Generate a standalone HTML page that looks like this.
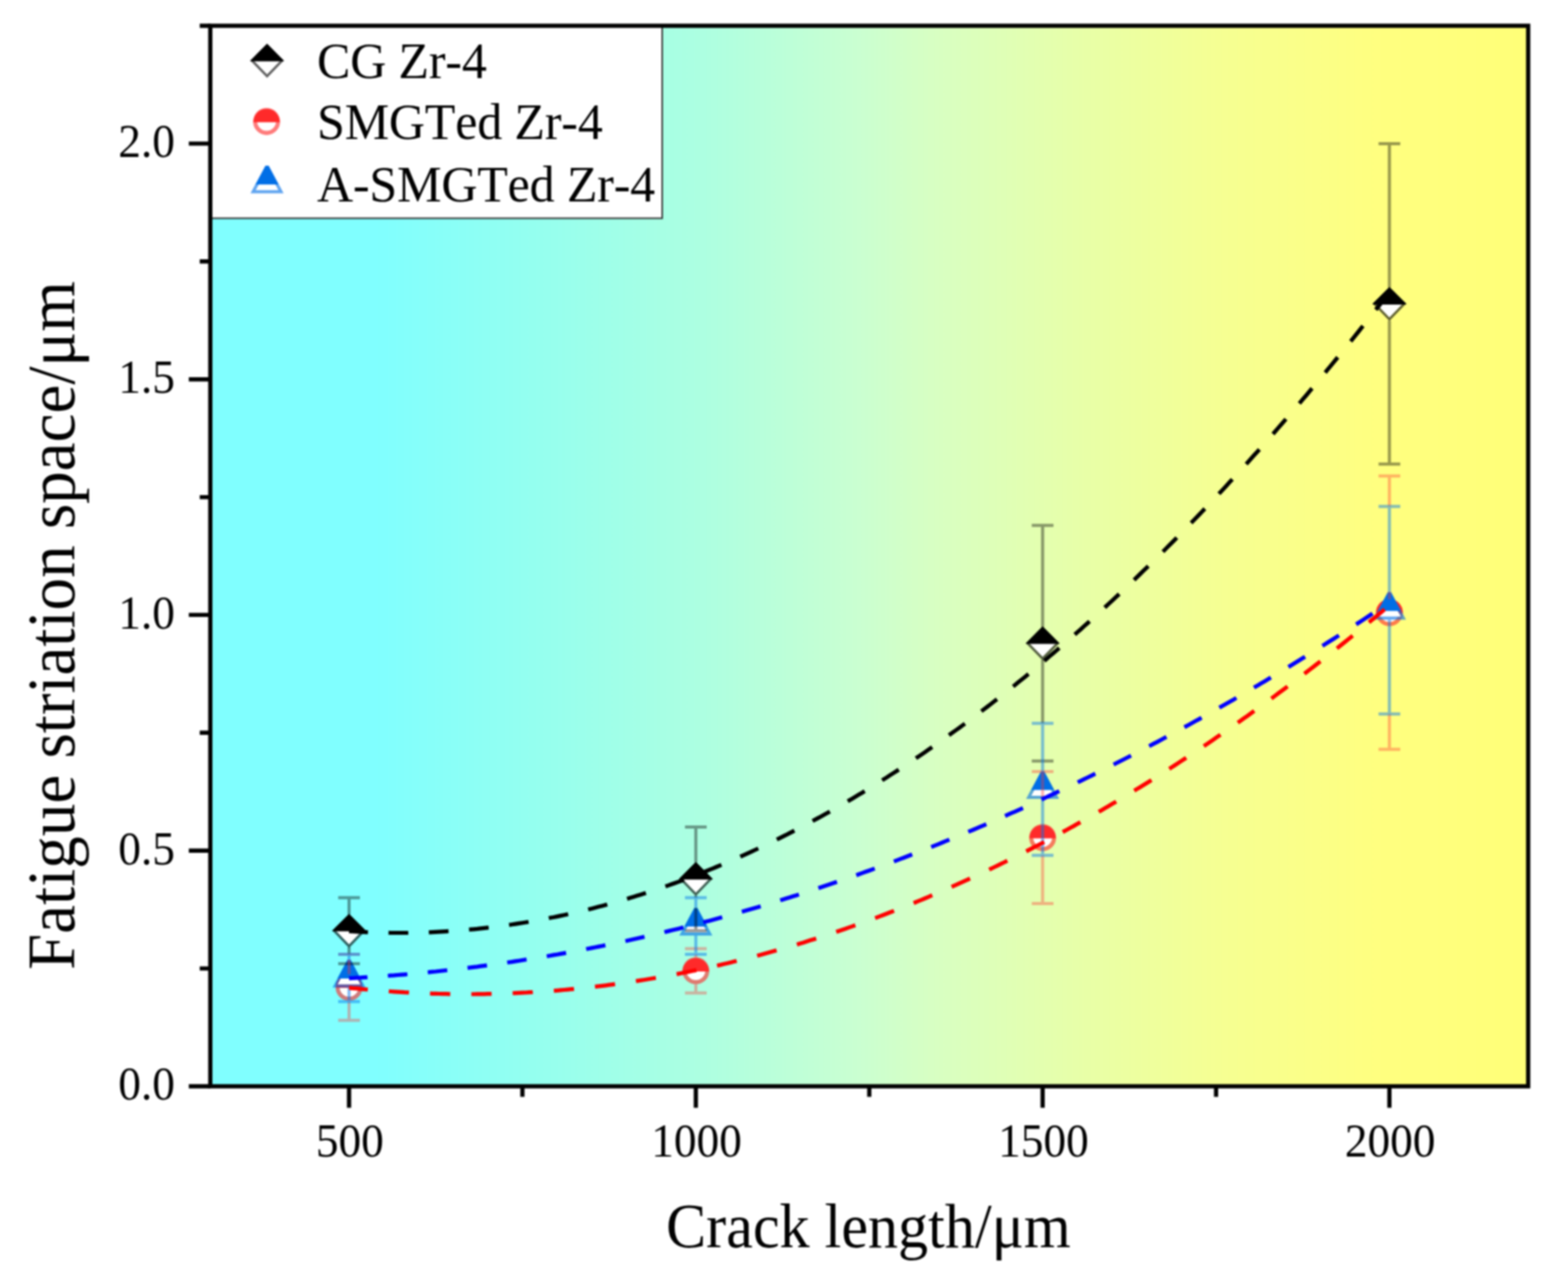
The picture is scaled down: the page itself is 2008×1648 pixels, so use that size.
<!DOCTYPE html>
<html lang="en">
<head>
<meta charset="utf-8">
<title>Fatigue striation space vs crack length</title>
<style>
html,body{margin:0;padding:0;background:#fff;}
body{width:2008px;height:1648px;overflow:hidden;}
svg{display:block;filter:blur(1.2px);}
text{font-family:"Liberation Serif","Times New Roman",serif;fill:#000;font-kerning:none;}
.tick{font-size:58px;}
.leg{font-size:64px;letter-spacing:-0.2px;}
.ttl{font-size:77px;}
.yttl{font-size:83.3px;}
</style>
</head>
<body>
<svg width="2008" height="1648" viewBox="0 0 2008 1648">
<defs>
<linearGradient id="bg" x1="0" y1="0" x2="1" y2="0">
<stop offset="0" stop-color="#80ffff"/>
<stop offset="0.125" stop-color="#80ffff"/>
<stop offset="0.255" stop-color="#96ffee"/>
<stop offset="0.374" stop-color="#adffe1"/>
<stop offset="0.492" stop-color="#caffd1"/>
<stop offset="0.551" stop-color="#d8ffc2"/>
<stop offset="0.67" stop-color="#e9ffa6"/>
<stop offset="0.77" stop-color="#f6ff92"/>
<stop offset="0.885" stop-color="#ffff80"/>
<stop offset="1" stop-color="#ffff78"/>
</linearGradient>
</defs>
<rect x="0" y="0" width="2008" height="1648" fill="#ffffff"/>
<rect x="269.3" y="33.0" width="1687.7" height="1358.0" fill="url(#bg)"/>

<g id="data">
<path d="M447.0 1170.2L468.3 1191.8L447.0 1213.9L425.7 1191.8Z" fill="#000" fill-opacity="0.62"/><path d="M430.1 1191.8H463.9L447.0 1209.3Z" fill="#fff"/><path d="M426.1 1192.6L425.3 1191.8L447.0 1170.2L468.7 1191.8L467.9 1192.6Z" fill="#000"/>
<path d="M891.1 1103.8L912.4 1125.4L891.1 1147.5L869.8 1125.4Z" fill="#000" fill-opacity="0.62"/><path d="M874.2 1125.4H908.0L891.1 1142.9Z" fill="#fff"/><path d="M870.2 1126.2L869.4 1125.4L891.1 1103.8L912.8 1125.4L912.0 1126.2Z" fill="#000"/>
<path d="M1335.2 802.0L1356.5 823.7L1335.2 845.7L1313.9 823.7Z" fill="#000" fill-opacity="0.62"/><path d="M1318.3 823.7H1352.1L1335.2 841.1Z" fill="#fff"/><path d="M1314.3 824.5L1313.5 823.7L1335.2 802.0L1356.9 823.7L1356.1 824.5Z" fill="#000"/>
<path d="M1779.3 367.5L1800.6 389.1L1779.3 411.1L1758.0 389.1Z" fill="#000" fill-opacity="0.62"/><path d="M1762.4 389.1H1796.2L1779.3 406.6Z" fill="#fff"/><path d="M1758.4 389.9L1757.6 389.1L1779.3 367.5L1801.0 389.1L1800.2 389.9Z" fill="#000"/>
<circle cx="447.0" cy="1264.3" r="17.3" fill="#ff2a2a" fill-opacity="0.62"/><circle cx="447.0" cy="1264.3" r="12.0" fill="#fff"/><path d="M430.1 1265.1A16.9 16.9 0 1 1 463.8 1265.1Z" fill="#ff2a2a"/>
<circle cx="891.1" cy="1243.1" r="17.3" fill="#ff2a2a" fill-opacity="0.62"/><circle cx="891.1" cy="1243.1" r="12.0" fill="#fff"/><path d="M874.2 1243.9A16.9 16.9 0 1 1 908.0 1243.9Z" fill="#ff2a2a"/>
<circle cx="1335.2" cy="1072.6" r="17.3" fill="#ff2a2a" fill-opacity="0.62"/><circle cx="1335.2" cy="1072.6" r="12.0" fill="#fff"/><path d="M1318.3 1073.4A16.9 16.9 0 1 1 1352.1 1073.4Z" fill="#ff2a2a"/>
<circle cx="1779.3" cy="784.4" r="17.3" fill="#ff2a2a" fill-opacity="0.62"/><circle cx="1779.3" cy="784.4" r="12.0" fill="#fff"/><path d="M1762.5 785.2A16.9 16.9 0 1 1 1796.2 785.2Z" fill="#ff2a2a"/>
<path d="M444.8 1228.8H449.2L468.2 1264.4H425.8Z" fill="#006ee6" fill-opacity="0.62"/><path d="M436.8 1252.2H457.1L461.5 1260.4H432.4Z" fill="#fff"/><path d="M445.1 1229.3H448.9L461.6 1253.0H432.3Z" fill="#006ee6"/>
<path d="M888.9 1162.4H893.3L912.3 1198.0H869.9Z" fill="#006ee6" fill-opacity="0.62"/><path d="M880.9 1185.8H901.2L905.6 1194.0H876.6Z" fill="#fff"/><path d="M889.2 1162.9H893.0L905.7 1186.6H876.5Z" fill="#006ee6"/>
<path d="M1333.0 987.4H1337.4L1356.4 1023.0H1314.0Z" fill="#006ee6" fill-opacity="0.62"/><path d="M1325.1 1010.8H1345.4L1349.7 1019.0H1320.7Z" fill="#fff"/><path d="M1333.3 987.9H1337.1L1349.8 1011.6H1320.6Z" fill="#006ee6"/>
<path d="M1777.1 758.0H1781.5L1800.5 793.6H1758.1Z" fill="#006ee6" fill-opacity="0.62"/><path d="M1769.2 781.4H1789.5L1793.9 789.6H1764.8Z" fill="#fff"/><path d="M1777.4 758.5H1781.2L1794.0 782.2H1764.7Z" fill="#006ee6"/>
<path d="M447.0 1149.6V1170.9M447.0 1213.1V1222.0M433.1 1149.6h27.8M433.1 1234.1h27.8" fill="none" stroke="rgba(0,0,0,0.40)" stroke-width="4.0"/>
<path d="M891.1 1059.0V1104.5M891.1 1146.7V1149.6M891.1 1162.4V1191.8M877.2 1059.0h27.8M877.2 1191.8h27.8" fill="none" stroke="rgba(0,0,0,0.40)" stroke-width="4.0"/>
<path d="M1335.2 672.8V802.8M1335.2 845.0V926.3M1321.3 672.8h27.8M1321.3 974.5h27.8" fill="none" stroke="rgba(0,0,0,0.40)" stroke-width="4.0"/>
<path d="M1779.3 183.9V368.2M1779.3 410.4V594.3M1765.4 183.9h27.8M1765.4 594.3h27.8" fill="none" stroke="rgba(0,0,0,0.40)" stroke-width="4.0"/>
<path d="M447.0 1228.8V1247.4M447.0 1282.4V1306.5M433.1 1222.0h27.8M433.1 1306.5h27.8" fill="none" stroke="rgba(255,44,44,0.36)" stroke-width="4.0"/>
<path d="M891.1 1222.0V1226.2M891.1 1260.4V1271.5M877.2 1214.8h27.8M877.2 1271.5h27.8" fill="none" stroke="rgba(255,44,44,0.36)" stroke-width="4.0"/>
<path d="M1335.2 988.1V1023.0M1335.2 1095.3V1157.1M1321.3 988.1h27.8M1321.3 1157.1h27.8" fill="none" stroke="rgba(255,44,44,0.36)" stroke-width="4.0"/>
<path d="M1779.3 609.4V648.6M1779.3 758.0V767.5M1779.3 914.2V959.5M1765.4 609.4h27.8M1765.4 959.5h27.8" fill="none" stroke="rgba(255,44,44,0.36)" stroke-width="4.0"/>
<path d="M447.0 1222.0V1228.8M447.0 1264.4V1282.4M433.1 1222.0h27.8M433.1 1282.4h27.8" fill="none" stroke="rgba(0,116,236,0.48)" stroke-width="4.0"/>
<path d="M891.1 1149.6V1162.4M891.1 1198.0V1222.0M877.2 1149.6h27.8M877.2 1222.0h27.8" fill="none" stroke="rgba(0,116,236,0.48)" stroke-width="4.0"/>
<path d="M1335.2 926.3V987.4M1335.2 1023.0V1095.3M1321.3 926.3h27.8M1321.3 1095.3h27.8" fill="none" stroke="rgba(0,116,236,0.48)" stroke-width="4.0"/>
<path d="M1779.3 648.6V758.0M1779.3 793.6V914.2M1765.4 648.6h27.8M1765.4 914.2h27.8" fill="none" stroke="rgba(0,116,236,0.48)" stroke-width="4.0"/>
</g>
<g id="fits">
<polyline points="447.0,1192.5 451.4,1192.7 455.8,1193.0 460.3,1193.2 464.7,1193.5 469.2,1193.7 473.6,1193.8 478.0,1194.0 482.5,1194.1 486.9,1194.2 491.4,1194.3 495.8,1194.4 500.2,1194.5 504.7,1194.5 509.1,1194.5 513.6,1194.5 518.0,1194.5 522.5,1194.5 526.9,1194.4 531.3,1194.3 535.8,1194.2 540.2,1194.1 544.7,1193.9 549.1,1193.8 553.5,1193.6 558.0,1193.4 562.4,1193.2 566.9,1192.9 571.3,1192.6 575.8,1192.4 580.2,1192.1 584.6,1191.7 589.1,1191.4 593.5,1191.0 598.0,1190.6 602.4,1190.2 606.8,1189.8 611.3,1189.4 615.7,1188.9 620.2,1188.4 624.6,1187.9 629.0,1187.4 633.5,1186.8 637.9,1186.3 642.4,1185.7 646.8,1185.1 651.3,1184.4 655.7,1183.8 660.1,1183.1 664.6,1182.4 669.0,1181.7 673.5,1181.0 677.9,1180.3 682.3,1179.5 686.8,1178.7 691.2,1177.9 695.7,1177.1 700.1,1176.2 704.5,1175.3 709.0,1174.5 713.4,1173.6 717.9,1172.6 722.3,1171.7 726.8,1170.7 731.2,1169.7 735.6,1168.7 740.1,1167.7 744.5,1166.6 749.0,1165.6 753.4,1164.5 757.8,1163.4 762.3,1162.2 766.7,1161.1 771.2,1159.9 775.6,1158.7 780.1,1157.5 784.5,1156.3 788.9,1155.0 793.4,1153.8 797.8,1152.5 802.3,1151.2 806.7,1149.8 811.1,1148.5 815.6,1147.1 820.0,1145.7 824.5,1144.3 828.9,1142.9 833.3,1141.4 837.8,1140.0 842.2,1138.5 846.7,1137.0 851.1,1135.4 855.6,1133.9 860.0,1132.3 864.4,1130.7 868.9,1129.1 873.3,1127.5 877.8,1125.8 882.2,1124.1 886.6,1122.4 891.1,1120.7 895.5,1119.0 900.0,1117.2 904.4,1115.5 908.8,1113.7 913.3,1111.9 917.7,1110.0 922.2,1108.2 926.6,1106.3 931.1,1104.4 935.5,1102.5 939.9,1100.6 944.4,1098.6 948.8,1096.6 953.3,1094.6 957.7,1092.6 962.1,1090.6 966.6,1088.5 971.0,1086.5 975.5,1084.4 979.9,1082.3 984.4,1080.1 988.8,1078.0 993.2,1075.8 997.7,1073.6 1002.1,1071.4 1006.6,1069.2 1011.0,1066.9 1015.4,1064.6 1019.9,1062.3 1024.3,1060.0 1028.8,1057.7 1033.2,1055.3 1037.6,1052.9 1042.1,1050.5 1046.5,1048.1 1051.0,1045.7 1055.4,1043.2 1059.9,1040.8 1064.3,1038.3 1068.7,1035.7 1073.2,1033.2 1077.6,1030.7 1082.1,1028.1 1086.5,1025.5 1090.9,1022.9 1095.4,1020.2 1099.8,1017.6 1104.3,1014.9 1108.7,1012.2 1113.2,1009.5 1117.6,1006.7 1122.0,1004.0 1126.5,1001.2 1130.9,998.4 1135.4,995.6 1139.8,992.7 1144.2,989.9 1148.7,987.0 1153.1,984.1 1157.6,981.2 1162.0,978.3 1166.4,975.3 1170.9,972.3 1175.3,969.3 1179.8,966.3 1184.2,963.3 1188.7,960.2 1193.1,957.1 1197.5,954.0 1202.0,950.9 1206.4,947.8 1210.9,944.6 1215.3,941.4 1219.7,938.2 1224.2,935.0 1228.6,931.8 1233.1,928.5 1237.5,925.2 1241.9,921.9 1246.4,918.6 1250.8,915.3 1255.3,911.9 1259.7,908.5 1264.2,905.1 1268.6,901.7 1273.0,898.2 1277.5,894.8 1281.9,891.3 1286.4,887.8 1290.8,884.3 1295.2,880.7 1299.7,877.2 1304.1,873.6 1308.6,870.0 1313.0,866.4 1317.5,862.7 1321.9,859.1 1326.3,855.4 1330.8,851.7 1335.2,848.0 1339.7,844.2 1344.1,840.4 1348.5,836.7 1353.0,832.9 1357.4,829.0 1361.9,825.2 1366.3,821.3 1370.7,817.4 1375.2,813.5 1379.6,809.6 1384.1,805.7 1388.5,801.7 1393.0,797.7 1397.4,793.7 1401.8,789.7 1406.3,785.6 1410.7,781.6 1415.2,777.5 1419.6,773.4 1424.0,769.3 1428.5,765.1 1432.9,761.0 1437.4,756.8 1441.8,752.6 1446.2,748.3 1450.7,744.1 1455.1,739.8 1459.6,735.5 1464.0,731.2 1468.5,726.9 1472.9,722.6 1477.3,718.2 1481.8,713.8 1486.2,709.4 1490.7,705.0 1495.1,700.5 1499.5,696.1 1504.0,691.6 1508.4,687.1 1512.9,682.5 1517.3,678.0 1521.8,673.4 1526.2,668.8 1530.6,664.2 1535.1,659.6 1539.5,655.0 1544.0,650.3 1548.4,645.6 1552.8,640.9 1557.3,636.2 1561.7,631.4 1566.2,626.7 1570.6,621.9 1575.0,617.1 1579.5,612.2 1583.9,607.4 1588.4,602.5 1592.8,597.6 1597.3,592.7 1601.7,587.8 1606.1,582.8 1610.6,577.9 1615.0,572.9 1619.5,567.9 1623.9,562.8 1628.3,557.8 1632.8,552.7 1637.2,547.6 1641.7,542.5 1646.1,537.4 1650.5,532.2 1655.0,527.1 1659.4,521.9 1663.9,516.7 1668.3,511.4 1672.8,506.2 1677.2,500.9 1681.6,495.6 1686.1,490.3 1690.5,485.0 1695.0,479.6 1699.4,474.2 1703.8,468.9 1708.3,463.4 1712.7,458.0 1717.2,452.6 1721.6,447.1 1726.1,441.6 1730.5,436.1 1734.9,430.6 1739.4,425.0 1743.8,419.4 1748.3,413.8 1752.7,408.2 1757.1,402.6 1761.6,396.9 1766.0,391.3 1770.5,385.6 1774.9,379.9 1779.3,374.1" fill="none" stroke="#000000" stroke-width="5.2" stroke-dasharray="25.29 26.33" stroke-dashoffset="1.0" stroke-linecap="butt"/>
<polyline points="447.0,1264.8 451.4,1265.3 455.8,1265.7 460.3,1266.2 464.7,1266.6 469.2,1267.0 473.6,1267.4 478.0,1267.8 482.5,1268.2 486.9,1268.5 491.4,1268.9 495.8,1269.2 500.2,1269.5 504.7,1269.8 509.1,1270.1 513.6,1270.4 518.0,1270.7 522.5,1270.9 526.9,1271.2 531.3,1271.4 535.8,1271.6 540.2,1271.8 544.7,1272.0 549.1,1272.1 553.5,1272.3 558.0,1272.4 562.4,1272.5 566.9,1272.6 571.3,1272.7 575.8,1272.8 580.2,1272.9 584.6,1272.9 589.1,1273.0 593.5,1273.0 598.0,1273.0 602.4,1273.0 606.8,1273.0 611.3,1272.9 615.7,1272.9 620.2,1272.8 624.6,1272.7 629.0,1272.6 633.5,1272.5 637.9,1272.4 642.4,1272.3 646.8,1272.1 651.3,1272.0 655.7,1271.8 660.1,1271.6 664.6,1271.4 669.0,1271.2 673.5,1271.0 677.9,1270.7 682.3,1270.5 686.8,1270.2 691.2,1269.9 695.7,1269.6 700.1,1269.3 704.5,1269.0 709.0,1268.6 713.4,1268.3 717.9,1267.9 722.3,1267.5 726.8,1267.1 731.2,1266.7 735.6,1266.3 740.1,1265.8 744.5,1265.4 749.0,1264.9 753.4,1264.4 757.8,1263.9 762.3,1263.4 766.7,1262.9 771.2,1262.3 775.6,1261.8 780.1,1261.2 784.5,1260.6 788.9,1260.0 793.4,1259.4 797.8,1258.8 802.3,1258.1 806.7,1257.5 811.1,1256.8 815.6,1256.1 820.0,1255.4 824.5,1254.7 828.9,1254.0 833.3,1253.3 837.8,1252.5 842.2,1251.8 846.7,1251.0 851.1,1250.2 855.6,1249.4 860.0,1248.5 864.4,1247.7 868.9,1246.9 873.3,1246.0 877.8,1245.1 882.2,1244.2 886.6,1243.3 891.1,1242.4 895.5,1241.5 900.0,1240.5 904.4,1239.5 908.8,1238.6 913.3,1237.6 917.7,1236.6 922.2,1235.6 926.6,1234.5 931.1,1233.5 935.5,1232.4 939.9,1231.3 944.4,1230.2 948.8,1229.1 953.3,1228.0 957.7,1226.9 962.1,1225.7 966.6,1224.6 971.0,1223.4 975.5,1222.2 979.9,1221.0 984.4,1219.8 988.8,1218.6 993.2,1217.3 997.7,1216.1 1002.1,1214.8 1006.6,1213.5 1011.0,1212.2 1015.4,1210.9 1019.9,1209.6 1024.3,1208.2 1028.8,1206.9 1033.2,1205.5 1037.6,1204.1 1042.1,1202.7 1046.5,1201.3 1051.0,1199.9 1055.4,1198.4 1059.9,1197.0 1064.3,1195.5 1068.7,1194.0 1073.2,1192.5 1077.6,1191.0 1082.1,1189.5 1086.5,1187.9 1090.9,1186.4 1095.4,1184.8 1099.8,1183.2 1104.3,1181.6 1108.7,1180.0 1113.2,1178.4 1117.6,1176.7 1122.0,1175.1 1126.5,1173.4 1130.9,1171.7 1135.4,1170.0 1139.8,1168.3 1144.2,1166.6 1148.7,1164.9 1153.1,1163.1 1157.6,1161.4 1162.0,1159.6 1166.4,1157.8 1170.9,1156.0 1175.3,1154.1 1179.8,1152.3 1184.2,1150.5 1188.7,1148.6 1193.1,1146.7 1197.5,1144.8 1202.0,1142.9 1206.4,1141.0 1210.9,1139.1 1215.3,1137.1 1219.7,1135.1 1224.2,1133.2 1228.6,1131.2 1233.1,1129.2 1237.5,1127.2 1241.9,1125.1 1246.4,1123.1 1250.8,1121.0 1255.3,1118.9 1259.7,1116.8 1264.2,1114.7 1268.6,1112.6 1273.0,1110.5 1277.5,1108.3 1281.9,1106.2 1286.4,1104.0 1290.8,1101.8 1295.2,1099.6 1299.7,1097.4 1304.1,1095.2 1308.6,1092.9 1313.0,1090.7 1317.5,1088.4 1321.9,1086.1 1326.3,1083.8 1330.8,1081.5 1335.2,1079.2 1339.7,1076.8 1344.1,1074.5 1348.5,1072.1 1353.0,1069.7 1357.4,1067.3 1361.9,1064.9 1366.3,1062.5 1370.7,1060.0 1375.2,1057.6 1379.6,1055.1 1384.1,1052.6 1388.5,1050.1 1393.0,1047.6 1397.4,1045.1 1401.8,1042.5 1406.3,1040.0 1410.7,1037.4 1415.2,1034.8 1419.6,1032.2 1424.0,1029.6 1428.5,1027.0 1432.9,1024.3 1437.4,1021.7 1441.8,1019.0 1446.2,1016.3 1450.7,1013.6 1455.1,1010.9 1459.6,1008.2 1464.0,1005.5 1468.5,1002.7 1472.9,1000.0 1477.3,997.2 1481.8,994.4 1486.2,991.6 1490.7,988.8 1495.1,985.9 1499.5,983.1 1504.0,980.2 1508.4,977.3 1512.9,974.4 1517.3,971.5 1521.8,968.6 1526.2,965.7 1530.6,962.7 1535.1,959.8 1539.5,956.8 1544.0,953.8 1548.4,950.8 1552.8,947.8 1557.3,944.7 1561.7,941.7 1566.2,938.6 1570.6,935.5 1575.0,932.4 1579.5,929.3 1583.9,926.2 1588.4,923.1 1592.8,919.9 1597.3,916.8 1601.7,913.6 1606.1,910.4 1610.6,907.2 1615.0,904.0 1619.5,900.8 1623.9,897.5 1628.3,894.3 1632.8,891.0 1637.2,887.7 1641.7,884.4 1646.1,881.1 1650.5,877.8 1655.0,874.4 1659.4,871.1 1663.9,867.7 1668.3,864.3 1672.8,860.9 1677.2,857.5 1681.6,854.1 1686.1,850.6 1690.5,847.2 1695.0,843.7 1699.4,840.2 1703.8,836.7 1708.3,833.2 1712.7,829.7 1717.2,826.1 1721.6,822.6 1726.1,819.0 1730.5,815.4 1734.9,811.8 1739.4,808.2 1743.8,804.6 1748.3,801.0 1752.7,797.3 1757.1,793.6 1761.6,790.0 1766.0,786.3 1770.5,782.5 1774.9,778.8 1779.3,775.1" fill="none" stroke="#ff0000" stroke-width="5.2" stroke-dasharray="25.92 26.98" stroke-dashoffset="1.8" stroke-linecap="butt"/>
<polyline points="447.0,1252.7 451.4,1252.5 455.8,1252.2 460.3,1252.0 464.7,1251.7 469.2,1251.4 473.6,1251.1 478.0,1250.8 482.5,1250.5 486.9,1250.2 491.4,1249.9 495.8,1249.6 500.2,1249.2 504.7,1248.9 509.1,1248.5 513.6,1248.1 518.0,1247.8 522.5,1247.4 526.9,1247.0 531.3,1246.6 535.8,1246.2 540.2,1245.8 544.7,1245.3 549.1,1244.9 553.5,1244.4 558.0,1244.0 562.4,1243.5 566.9,1243.0 571.3,1242.5 575.8,1242.0 580.2,1241.5 584.6,1241.0 589.1,1240.5 593.5,1240.0 598.0,1239.4 602.4,1238.9 606.8,1238.3 611.3,1237.8 615.7,1237.2 620.2,1236.6 624.6,1236.0 629.0,1235.4 633.5,1234.8 637.9,1234.1 642.4,1233.5 646.8,1232.9 651.3,1232.2 655.7,1231.6 660.1,1230.9 664.6,1230.2 669.0,1229.5 673.5,1228.8 677.9,1228.1 682.3,1227.4 686.8,1226.7 691.2,1226.0 695.7,1225.2 700.1,1224.5 704.5,1223.7 709.0,1222.9 713.4,1222.2 717.9,1221.4 722.3,1220.6 726.8,1219.8 731.2,1219.0 735.6,1218.1 740.1,1217.3 744.5,1216.5 749.0,1215.6 753.4,1214.7 757.8,1213.9 762.3,1213.0 766.7,1212.1 771.2,1211.2 775.6,1210.3 780.1,1209.4 784.5,1208.5 788.9,1207.5 793.4,1206.6 797.8,1205.6 802.3,1204.7 806.7,1203.7 811.1,1202.7 815.6,1201.7 820.0,1200.7 824.5,1199.7 828.9,1198.7 833.3,1197.7 837.8,1196.7 842.2,1195.6 846.7,1194.6 851.1,1193.5 855.6,1192.4 860.0,1191.3 864.4,1190.3 868.9,1189.2 873.3,1188.1 877.8,1186.9 882.2,1185.8 886.6,1184.7 891.1,1183.5 895.5,1182.4 900.0,1181.2 904.4,1180.0 908.8,1178.9 913.3,1177.7 917.7,1176.5 922.2,1175.3 926.6,1174.1 931.1,1172.8 935.5,1171.6 939.9,1170.3 944.4,1169.1 948.8,1167.8 953.3,1166.6 957.7,1165.3 962.1,1164.0 966.6,1162.7 971.0,1161.4 975.5,1160.1 979.9,1158.7 984.4,1157.4 988.8,1156.1 993.2,1154.7 997.7,1153.3 1002.1,1152.0 1006.6,1150.6 1011.0,1149.2 1015.4,1147.8 1019.9,1146.4 1024.3,1145.0 1028.8,1143.5 1033.2,1142.1 1037.6,1140.7 1042.1,1139.2 1046.5,1137.8 1051.0,1136.3 1055.4,1134.8 1059.9,1133.3 1064.3,1131.8 1068.7,1130.3 1073.2,1128.8 1077.6,1127.3 1082.1,1125.7 1086.5,1124.2 1090.9,1122.6 1095.4,1121.1 1099.8,1119.5 1104.3,1117.9 1108.7,1116.3 1113.2,1114.7 1117.6,1113.1 1122.0,1111.5 1126.5,1109.9 1130.9,1108.2 1135.4,1106.6 1139.8,1104.9 1144.2,1103.3 1148.7,1101.6 1153.1,1099.9 1157.6,1098.2 1162.0,1096.5 1166.4,1094.8 1170.9,1093.1 1175.3,1091.3 1179.8,1089.6 1184.2,1087.9 1188.7,1086.1 1193.1,1084.3 1197.5,1082.6 1202.0,1080.8 1206.4,1079.0 1210.9,1077.2 1215.3,1075.4 1219.7,1073.6 1224.2,1071.7 1228.6,1069.9 1233.1,1068.1 1237.5,1066.2 1241.9,1064.3 1246.4,1062.5 1250.8,1060.6 1255.3,1058.7 1259.7,1056.8 1264.2,1054.9 1268.6,1053.0 1273.0,1051.0 1277.5,1049.1 1281.9,1047.1 1286.4,1045.2 1290.8,1043.2 1295.2,1041.2 1299.7,1039.3 1304.1,1037.3 1308.6,1035.3 1313.0,1033.3 1317.5,1031.2 1321.9,1029.2 1326.3,1027.2 1330.8,1025.1 1335.2,1023.1 1339.7,1021.0 1344.1,1018.9 1348.5,1016.8 1353.0,1014.7 1357.4,1012.6 1361.9,1010.5 1366.3,1008.4 1370.7,1006.3 1375.2,1004.1 1379.6,1002.0 1384.1,999.8 1388.5,997.7 1393.0,995.5 1397.4,993.3 1401.8,991.1 1406.3,988.9 1410.7,986.7 1415.2,984.5 1419.6,982.2 1424.0,980.0 1428.5,977.8 1432.9,975.5 1437.4,973.2 1441.8,971.0 1446.2,968.7 1450.7,966.4 1455.1,964.1 1459.6,961.8 1464.0,959.4 1468.5,957.1 1472.9,954.8 1477.3,952.4 1481.8,950.1 1486.2,947.7 1490.7,945.3 1495.1,942.9 1499.5,940.5 1504.0,938.1 1508.4,935.7 1512.9,933.3 1517.3,930.9 1521.8,928.4 1526.2,926.0 1530.6,923.5 1535.1,921.1 1539.5,918.6 1544.0,916.1 1548.4,913.6 1552.8,911.1 1557.3,908.6 1561.7,906.1 1566.2,903.5 1570.6,901.0 1575.0,898.4 1579.5,895.9 1583.9,893.3 1588.4,890.7 1592.8,888.2 1597.3,885.6 1601.7,883.0 1606.1,880.3 1610.6,877.7 1615.0,875.1 1619.5,872.4 1623.9,869.8 1628.3,867.1 1632.8,864.5 1637.2,861.8 1641.7,859.1 1646.1,856.4 1650.5,853.7 1655.0,851.0 1659.4,848.3 1663.9,845.5 1668.3,842.8 1672.8,840.0 1677.2,837.3 1681.6,834.5 1686.1,831.7 1690.5,828.9 1695.0,826.1 1699.4,823.3 1703.8,820.5 1708.3,817.7 1712.7,814.9 1717.2,812.0 1721.6,809.2 1726.1,806.3 1730.5,803.4 1734.9,800.6 1739.4,797.7 1743.8,794.8 1748.3,791.9 1752.7,789.0 1757.1,786.0 1761.6,783.1 1766.0,780.2 1770.5,777.2 1774.9,774.3 1779.3,771.3" fill="none" stroke="#0000ff" stroke-width="5.2" stroke-dasharray="25.13 26.15" stroke-dashoffset="1.5" stroke-linecap="butt"/>
</g>
<g id="legend">
<rect x="269.3" y="33.0" width="578.7" height="246.5" fill="#fff" stroke="#333" stroke-width="2"/>
<path d="M342.0 56.1L363.3 77.7L342.0 99.7L320.7 77.7Z" fill="#000" fill-opacity="0.62"/><path d="M325.1 77.7H358.9L342.0 95.2Z" fill="#fff"/><path d="M321.1 78.5L320.3 77.7L342.0 56.1L363.7 77.7L362.9 78.5Z" fill="#000"/>
<circle cx="341.4" cy="155.6" r="17.3" fill="#ff2a2a" fill-opacity="0.62"/><circle cx="341.4" cy="155.6" r="12.0" fill="#fff"/><path d="M324.5 156.4A16.9 16.9 0 1 1 358.3 156.4Z" fill="#ff2a2a"/>
<path d="M339.8 212.0H344.2L363.2 247.6H320.8Z" fill="#006ee6" fill-opacity="0.62"/><path d="M331.8 235.4H352.2L356.5 243.6H327.5Z" fill="#fff"/><path d="M340.1 212.5H343.9L356.6 236.2H327.4Z" fill="#006ee6"/>
<text class="leg" transform="translate(406.0 100.3) scale(1 1.04)" text-anchor="start">CG Zr-4</text>
<text class="leg" transform="translate(406.0 178.2) scale(1 1.04)" text-anchor="start">SMGTed Zr-4</text>
<text class="leg" transform="translate(406.0 257.6) scale(1 1.04)" text-anchor="start">A-SMGTed Zr-4</text>
</g>
<g id="axes">
<rect x="269.3" y="33.0" width="1687.7" height="1358.0" fill="none" stroke="#000" stroke-width="5.4"/>
<path d="M447.0 1391.0v27.5M891.1 1391.0v27.5M1335.2 1391.0v27.5M1779.3 1391.0v27.5M669.0 1391.0v13.5M1113.2 1391.0v13.5M1557.3 1391.0v13.5M269.3 1391.0h-27.5M269.3 1089.2h-27.5M269.3 787.4h-27.5M269.3 485.7h-27.5M269.3 183.9h-27.5M269.3 1240.1h-13.5M269.3 938.3h-13.5M269.3 636.6h-13.5M269.3 334.8h-13.5M269.3 33.0h-13.5" fill="none" stroke="#000" stroke-width="5.4"/>
<text class="tick" transform="translate(448.0 1480.6) scale(1 1.04)" text-anchor="middle">500</text>
<text class="tick" transform="translate(892.1 1480.6) scale(1 1.04)" text-anchor="middle">1000</text>
<text class="tick" transform="translate(1336.2 1480.6) scale(1 1.04)" text-anchor="middle">1500</text>
<text class="tick" transform="translate(1780.3 1480.6) scale(1 1.04)" text-anchor="middle">2000</text>
<text class="tick" transform="translate(224.0 1408.3) scale(1 1.04)" text-anchor="end">0.0</text>
<text class="tick" transform="translate(224.0 1106.5) scale(1 1.04)" text-anchor="end">0.5</text>
<text class="tick" transform="translate(224.0 804.7) scale(1 1.04)" text-anchor="end">1.0</text>
<text class="tick" transform="translate(224.0 503.0) scale(1 1.04)" text-anchor="end">1.5</text>
<text class="tick" transform="translate(224.0 201.2) scale(1 1.04)" text-anchor="end">2.0</text>
<text class="ttl" transform="translate(1112.0 1597.0) scale(1 1.04)" text-anchor="middle">Crack length/μm</text>
<text class="yttl" transform="translate(95 801) rotate(-90) scale(1 1.04)" text-anchor="middle">Fatigue striation space/μm</text>
</g>
</svg>
</body>
</html>
